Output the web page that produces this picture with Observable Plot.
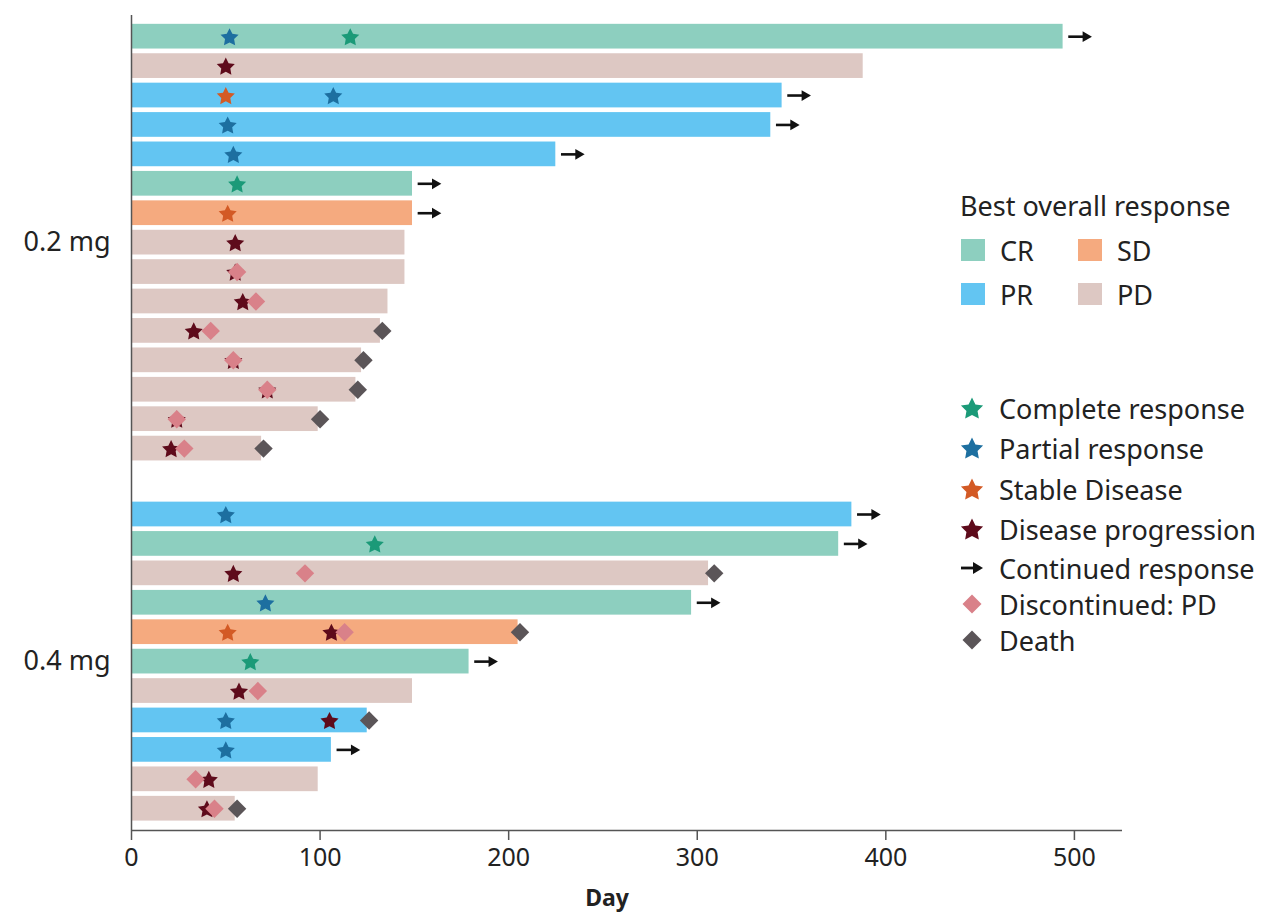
<!DOCTYPE html>
<html><head><meta charset="utf-8">
<script src="https://cdn.jsdelivr.net/npm/d3@7"></script>
<script src="https://cdn.jsdelivr.net/npm/@observablehq/plot@0.6"></script>
<style>
body{margin:0;background:#fff;font-family:"Noto Sans",sans-serif;}
#wrap{position:relative;width:1262px;height:922px;}
.lg{position:absolute;display:flex;align-items:center;height:36px;font-size:27px;color:#222;white-space:nowrap;}
.lg svg{flex:none;}
</style></head><body><div id="wrap"></div>
<script>
// ---------- data ----------
const groups = ["0.2 mg", "0.4 mg"];
const doseGroup = [
  "0.2 mg","0.2 mg","0.2 mg","0.2 mg","0.2 mg","0.2 mg","0.2 mg","0.2 mg","0.2 mg","0.2 mg","0.2 mg","0.2 mg","0.2 mg","0.2 mg","0.2 mg",
  "0.4 mg","0.4 mg","0.4 mg","0.4 mg","0.4 mg","0.4 mg","0.4 mg","0.4 mg","0.4 mg","0.4 mg","0.4 mg"];
const lastDay = [494,388,345,339,225,149,149,145,145,136,132,122,119,99,69,
                 382,375,306,297,205,179,149,125,106,99,55];
const bestResponse = ["CR","PD","PR","PR","PR","CR","SD","PD","PD","PD","PD","PD","PD","PD","PD",
                      "PR","CR","PD","CR","SD","CR","PD","PR","PR","PD","PD"];
const continuing = [1,0,1,1,1,1,1,0,0,0,0,0,0,0,0, 1,1,0,1,0,1,0,0,1,0,0];
// [patient row (1-based), day]
const completeResponse = [[1,116],[6,56],[17,129],[21,63]];
const partialResponse = [[1,52],[3,107],[4,51],[5,54],[16,50],[19,71],[23,50],[24,50]];
const stableDisease = [[3,50],[7,51],[20,51]];
const diseaseProgression = [[2,50],[8,55],[9,55],[10,59],[11,33],[12,54],[13,72],[14,24],[15,21],
                            [18,54],[20,106],[22,57],[23,105],[25,41],[26,40]];
const discontinuedPD = [[9,56],[10,66],[11,42],[12,54],[13,72],[14,24],[15,28],
                        [18,92],[20,113],[22,67],[25,34],[26,44]];
const death = [[11,133],[12,123],[13,120],[14,100],[15,70],[18,309],[20,206],[23,126],[26,56]];
const xTicks = [0,100,200,300,400,500];
const responseLabels = ["CR","PR","SD","PD"];

// ---------- styles ----------
const barColor = {CR:"#8dcfbf", PR:"#63c5f2", SD:"#f5aa7f", PD:"#ddc8c3"};
const evColor = {cr:"#1b9a78", pr:"#1d6fa0", sd:"#d35a25", pd:"#5e0b1b", disc:"#d98189", death:"#5b5558"};

// fuller five-point star symbol (inner radius = 0.5 * outer)
const fatStar = {
  draw(ctx, size) {
    const R = Math.sqrt(size / 1.469), r = R * 0.5;
    for (let k = 0; k < 10; k++) {
      const a = -Math.PI / 2 + k * Math.PI / 5, rad = k % 2 ? r : R;
      const px = rad * Math.cos(a), py = rad * Math.sin(a) + R * 0.1;
      k ? ctx.lineTo(px, py) : ctx.moveTo(px, py);
    }
    ctx.closePath();
  }
};

// ---------- layout ----------
const W = 1262, H = 922;
const yTop = -0.72, yBottom = 26.98, groupGap = 1.24;
const rows = lastDay.map((end, i) => ({
  i, end, dose: doseGroup[i], best: bestResponse[i], cont: continuing[i] === 1,
  pos: i + (doseGroup[i] === groups[1] ? groupGap : 0)
}));
const ev = (arr, type) => arr.map(([r, day]) => ({pos: rows[r-1].pos, day, type}));
const groupPos = groups.map(g => ({g, pos: d3.mean(rows.filter(r => r.dose === g), r => r.pos)}));

const starR = 6.5, diamR = 8.3;
const chart = Plot.plot({
  width: W, height: H,
  marginTop: 15, marginBottom: 92, marginLeft: 131, marginRight: 140,
  x: {domain: [0, 525.5]},
  y: {domain: [yTop, yBottom], reverse: true, axis: null},
  style: {fontFamily: "Noto Sans", color: "#222", background: "transparent", overflow: "visible"},
  marks: [
    Plot.rect(rows, {x1: 0, x2: "end", y1: d => d.pos - 0.42, y2: d => d.pos + 0.42, fill: d => barColor[d.best]}),
    Plot.ruleY(rows.filter(d => d.cont), {y: "pos", x1: d => d.end + 3, x2: d => d.end + 11, stroke: "#111", strokeWidth: 2.6}),
    Plot.dot(rows.filter(d => d.cont), {x: d => d.end + 12, y: "pos", symbol: "triangle", rotate: 90, r: 4, fill: "#111"}),
    Plot.dot(ev(diseaseProgression, "pd"), {x: "day", y: "pos", symbol: fatStar, r: starR, fill: evColor.pd}),
    Plot.dot(ev(discontinuedPD, "disc"), {x: "day", y: "pos", symbol: "diamond2", r: diamR, fill: evColor.disc}),
    Plot.dot(ev(death, "death"), {x: "day", y: "pos", symbol: "diamond2", r: diamR, fill: evColor.death}),
    Plot.dot(ev(stableDisease, "sd"), {x: "day", y: "pos", symbol: fatStar, r: starR, fill: evColor.sd}),
    Plot.dot(ev(partialResponse, "pr"), {x: "day", y: "pos", symbol: fatStar, r: starR, fill: evColor.pr}),
    Plot.dot(ev(completeResponse, "cr"), {x: "day", y: "pos", symbol: fatStar, r: starR, fill: evColor.cr}),
    Plot.ruleX([0], {stroke: "#555", strokeWidth: 1.5}),
    Plot.ruleY([yBottom], {stroke: "#555", strokeWidth: 1.5}),
    Plot.text(groupPos, {x: 0, y: "pos", text: "g", textAnchor: "end", dx: -21, fontSize: 27, fill: "#222"}),
    Plot.axisX({ticks: xTicks, tickSize: 10, tickPadding: 8, fontSize: 25, label: null, stroke: "#555", strokeWidth: 1.5}),
    Plot.text(["Day"], {frameAnchor: "bottom", dy: 75, dx: -20, fontWeight: "bold", fontSize: 23, fill: "#222"})
  ]
});
const wrap = document.getElementById("wrap");
wrap.appendChild(chart);

// ---------- legend (HTML overlay) ----------
function add(left, yc, iconHtml, text, gap) {
  const d = document.createElement("div");
  d.className = "lg";
  d.style.left = left + "px";
  d.style.top = (yc - 18) + "px";
  d.innerHTML = iconHtml + `<span style="margin-left:${gap}px">${text}</span>`;
  wrap.appendChild(d);
}
function swatch(c) { return `<svg width="24" height="22"><rect width="24" height="22" fill="${c}"/></svg>`; }
function sym(type, size, c) {
  const p = d3.symbol(type, size)();
  return `<svg width="24" height="24" viewBox="-12 -12 24 24"><path d="${p}" fill="${c}"/></svg>`;
}
const arrowIcon = `<svg width="24" height="24" viewBox="-12 -12 24 24"><line x1="-11" x2="2" y1="0" y2="0" stroke="#111" stroke-width="2.8"/><path d="M1,-6L11,0L1,6Z" fill="#111"/></svg>`;

const t = document.createElement("div");
t.className = "lg"; t.style.left = "960px"; t.style.top = (205 - 18) + "px";
t.textContent = "Best overall response";
wrap.appendChild(t);
add(961, 250, swatch(barColor[responseLabels[0]]), responseLabels[0], 15);
add(1078, 250, swatch(barColor[responseLabels[2]]), responseLabels[2], 15);
add(961, 294, swatch(barColor[responseLabels[1]]), responseLabels[1], 15);
add(1078, 294, swatch(barColor[responseLabels[3]]), responseLabels[3], 15);

const evLegend = [
  [sym(fatStar, 200, evColor.cr), "Complete response", 408],
  [sym(fatStar, 200, evColor.pr), "Partial response", 448],
  [sym(fatStar, 200, evColor.sd), "Stable Disease", 489],
  [sym(fatStar, 200, evColor.pd), "Disease progression", 529],
  [arrowIcon, "Continued response", 568],
  [sym(d3.symbolDiamond2, 230, evColor.disc), "Discontinued: PD", 604],
  [sym(d3.symbolDiamond2, 230, evColor.death), "Death", 640]
];
evLegend.forEach(([ic, txt, y]) => add(960, y, ic, txt, 15));
</script></body></html>
